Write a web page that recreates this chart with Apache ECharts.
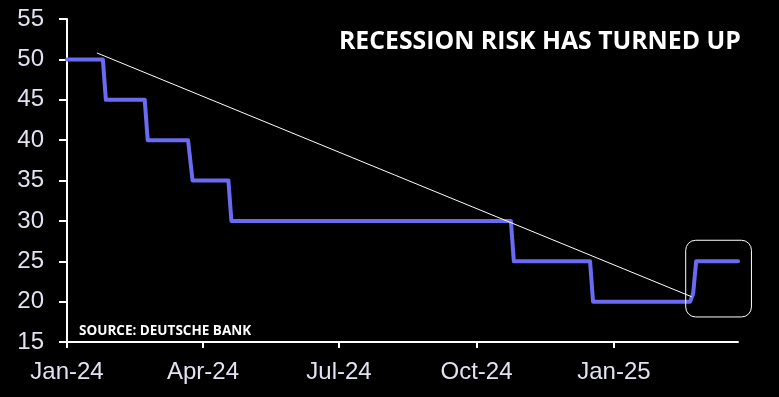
<!DOCTYPE html>
<html>
<head>
<meta charset="utf-8">
<script src="https://cdn.jsdelivr.net/npm/echarts@6/dist/echarts.min.js"></script>
<style>html,body{margin:0;padding:0;background:#000;}#c{width:779px;height:397px;}</style>
</head>
<body>
<div id="c"></div>
<script>
// Recession probability (%) – step corners
const riskDates  = ['2024-01-01','2024-01-25','2024-01-27','2024-02-22','2024-02-24','2024-03-22','2024-03-25','2024-04-18','2024-04-20','2024-10-24','2024-10-26','2024-12-16','2024-12-18','2025-02-21','2025-02-23','2025-02-25','2025-03-25'];
const riskValues = [50,50,45,45,40,40,35,35,30,30,25,25,20,20,21,25,25];
// Hand-drawn trend line
const trendDates  = ['2024-01-21','2025-02-22'];
const trendValues = [50.8,20.6];
// Highlight box (dates / values)
const boxDates  = ['2025-02-18','2025-04-03'];
const boxValues = [27.6,18.1];
// Axis ticks
const tickDates  = ['2024-01-01','2024-04-01','2024-07-01','2024-10-01','2025-01-01'];
const tickLabels = ['Jan-24','Apr-24','Jul-24','Oct-24','Jan-25'];
const yMin = 15, yMax = 55, yStep = 5;
const titleText  = 'RECESSION RISK HAS TURNED UP';
const sourceText = 'SOURCE: DEUTSCHE BANK';

const origin = Date.UTC(2024,0,1);
const toDay = s => { const p = s.split('-').map(Number); return (Date.UTC(p[0],p[1]-1,p[2]) - origin) / 86400000; };
const tickDays = tickDates.map(toDay);
const labelMap = {}; tickDays.forEach((d,i)=>labelMap[d]=tickLabels[i]);

const chart = echarts.init(document.getElementById('c'), null, {renderer:'canvas'});
const labelColor = '#e2e2f0';
chart.setOption({
  backgroundColor: '#000',
  animation: false,
  grid: {left: 67, right: 41, top: 19, bottom: 55, containLabel: false},
  xAxis: {
    type: 'value',
    min: 0,
    max: toDay(riskDates[riskDates.length-1]),
    splitLine: {show: false},
    axisLine: {show: true, lineStyle: {color: '#fff', width: 2}},
    axisTick: {show: true, customValues: tickDays, length: 6, lineStyle: {color: '#fff', width: 2}},
    axisLabel: {customValues: tickDays, formatter: v => labelMap[v] || '', color: labelColor,
      fontFamily: 'Liberation Sans', fontSize: 24, margin: 18}
  },
  yAxis: {
    type: 'value', min: yMin, max: yMax, interval: yStep,
    splitLine: {show: false},
    axisLine: {show: true, lineStyle: {color: '#fff', width: 2}},
    axisTick: {show: true, length: 8, lineStyle: {color: '#fff', width: 2}},
    axisLabel: {color: labelColor, fontFamily: 'Liberation Sans', fontSize: 24, margin: 23}
  },
  series: [
    {type: 'line', data: riskDates.map((d,i)=>[toDay(d), riskValues[i]]), symbol: 'none',
     lineStyle: {color: '#6a6af2', width: 4, join: 'round', cap: 'round'}, z: 3},
    {type: 'line', data: trendDates.map((d,i)=>[toDay(d), trendValues[i]]), symbol: 'none',
     lineStyle: {color: '#fff', width: 1}, z: 4}
  ]
});

const p1 = chart.convertToPixel({gridIndex:0}, [toDay(boxDates[0]), boxValues[0]]);
const p2 = chart.convertToPixel({gridIndex:0}, [toDay(boxDates[1]), boxValues[1]]);
chart.setOption({
  graphic: [
    {type: 'rect', shape: {x: p1[0], y: p1[1], width: p2[0]-p1[0], height: p2[1]-p1[1], r: 10},
     style: {fill: 'none', stroke: '#fff', lineWidth: 1}, z: 10},
    {type: 'text', left: 339, top: 29, style: {text: titleText, fill: '#fff',
      font: 'bold 24.8px "Open Sans"'}, z: 10},
    {type: 'text', left: 79, top: 324, style: {text: sourceText, fill: '#fff',
      font: 'bold 13.5px "Open Sans"'}, z: 10}
  ]
});
</script>
</body>
</html>
